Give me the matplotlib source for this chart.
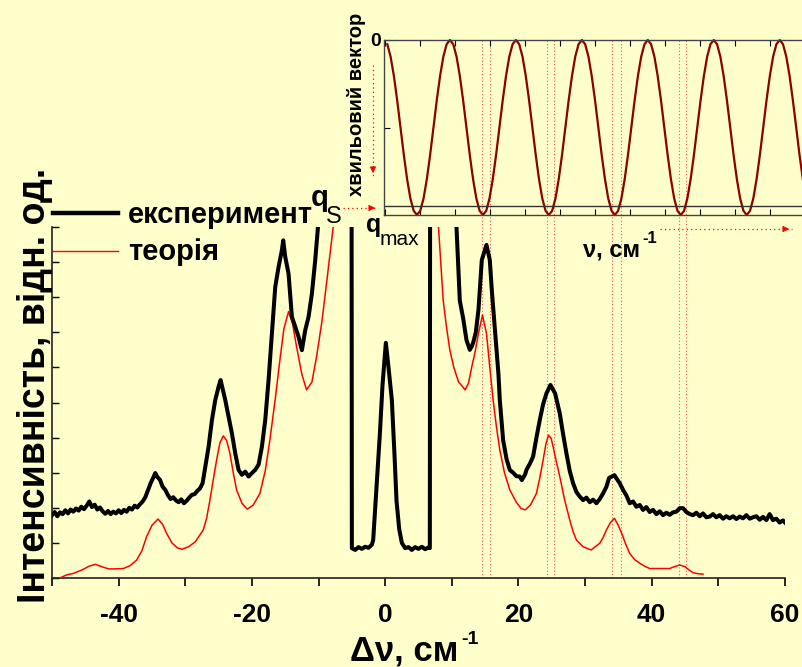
import matplotlib
matplotlib.use("Agg")
import matplotlib.pyplot as plt
import numpy as np
from matplotlib.lines import Line2D
from matplotlib.patches import FancyArrowPatch
from matplotlib.transforms import blended_transform_factory

W, H = 802, 667
BG = "#ffffcc"

plt.rcParams["font.family"] = ["Liberation Sans", "DejaVu Sans"]
plt.rcParams["axes.unicode_minus"] = False

# experiment (black), arb. units 0..100 of the visible range
exp_x = [-50, -49.6, -49.2, -48.8, -48.4, -48.0, -47.6, -47.2, -46.8, -46.4, -46.0,
         -45.6, -45.2, -44.8, -44.4, -44.0, -43.6, -43.2, -42.8, -42.4, -42.0, -41.6,
         -41.2, -40.8, -40.4, -40.0, -39.6, -39.2, -38.8, -38.4, -38.0, -37.6, -37.2,
         -36.8, -36.4, -36.0, -35.6, -35.2, -34.8, -34.5, -34.2, -33.8, -33.4, -33.0,
         -32.6, -32.2, -31.8, -31.4, -31.0, -30.6, -30.2, -29.8, -29.4, -29.0, -28.6,
         -28.2, -27.8, -27.4, -27.0, -26.5, -26.0, -25.5, -25.0, -24.7, -24.3, -24.0,
         -23.5, -23.0, -22.5, -22.0, -21.5, -21.0, -20.5, -20.0, -19.5, -19.0, -18.5,
         -18.0, -17.5, -17.0, -16.5, -16.0, -15.5, -15.3, -15.0, -14.5, -14.0, -13.5,
         -13.0, -12.5, -12.0, -11.5, -11.0, -10.5, -10.0, -9.0, -5.05,
         -5.0, -4.5, -4.0, -3.5, -3.0, -2.5, -2.0, -1.8, -1.3, -0.8, -0.4, 0.1, 0.5,
         1.0, 1.4, 1.7, 2.1, 2.5, 3.0, 3.5, 4.0, 4.5, 5.0, 5.5, 6.0, 6.5, 6.7,
         6.75, 10.6, 10.7, 11.2, 11.7, 12.2, 12.7, 13.0, 13.2, 13.6, 14.0, 14.5, 15.2,
         15.7, 16.0, 16.5, 17.0, 17.2, 17.7, 18.2, 18.7, 19.2, 19.7, 20.2, 20.5, 21.0,
         21.2, 21.7, 22.2, 22.7, 23.2, 23.7, 24.2, 24.8, 25.5, 26.2, 26.7, 27.2, 27.7,
         28.2, 28.7, 29.2, 29.7, 30.2, 30.7, 31.2, 31.7, 32.2, 32.7, 33.2, 33.6, 34.0,
         34.4, 34.7, 35.2, 35.7, 36.2, 36.7, 37.2, 37.7, 38.2, 38.7, 39.2, 39.7, 40.2,
         40.7, 41.2, 41.7, 42.2, 42.7, 43.2, 43.7, 44.2, 44.7, 45.2, 45.7, 46.2, 46.7,
         47.2, 47.7, 48.2, 48.7, 49.2, 49.7, 50.2, 50.7, 51.2, 51.7, 52.2, 52.7, 53.2,
         53.7, 54.2, 54.7, 55.2, 55.7, 56.2, 56.7, 57.2, 57.7, 58.2, 58.7, 59.2, 59.7, 60.0]
exp_y = [17.9, 18.8, 17.6, 18.7, 18.2, 19.3, 18.4, 19.5, 18.9, 19.8, 19.2,
         20.3, 19.6, 20.6, 21.8, 20.2, 20.9, 19.5, 20.1, 19.0, 18.3, 19.1,
         18.2, 18.9, 18.4, 19.3, 18.5, 19.4, 18.9, 20.0, 19.5, 20.6, 20.1,
         21.0, 21.8, 23.0, 25.0, 27.0, 28.6, 29.9, 28.8, 28.0, 26.0, 25.1,
         23.6, 22.5, 23.0, 22.1, 21.6, 22.4, 21.3, 22.0, 22.9, 23.7, 23.9,
         24.8, 25.5, 27.0, 31.7, 37.4, 45.0, 50.7, 54.5, 56.4, 53.1, 50.7,
         46.0, 41.2, 35.5, 30.8, 29.4, 30.3, 28.9, 29.9, 30.8, 32.3, 37.4,
         45.0, 56.4, 69.6, 82.9, 88.6, 93.4, 96.2, 91.5, 86.7, 74.4, 71.6,
         68.7, 64.9, 70.6, 74.4, 81.0, 90.5, 102, 130, 130,
         8.5, 8.0, 8.8, 8.3, 8.9, 8.6, 9.5, 10.8, 26.0, 41.0, 55.0, 67.0, 60.0,
         50.7, 35.0, 22.0, 14.0, 10.0, 8.5, 8.8, 8.0, 8.8, 8.3, 8.9, 8.2, 8.7, 8.5,
         130, 130, 100, 79.0, 74.0, 67.8, 65.0, 66.0, 67.0, 70.0, 76.4, 90.6, 94.9,
         90.6, 82.0, 69.8, 58.0, 50.7, 39.3, 34.0, 30.8, 30.0, 29.0, 28.9, 27.9, 29.5,
         30.8, 32.5, 34.6, 40.0, 45.0, 49.5, 52.6, 55.0, 52.6, 46.9, 41.0, 35.5, 30.5,
         27.0, 24.5, 23.2, 22.2, 22.9, 21.6, 22.3, 21.3, 22.5, 24.1, 26.0, 28.5, 28.9,
         29.3, 28.4, 27.0, 25.1, 23.5, 21.3, 21.8, 20.3, 20.8, 19.4, 20.2, 18.8, 19.4,
         18.2, 19.0, 17.9, 18.6, 18.0, 18.7, 18.9, 19.9, 19.9, 18.8, 18.2, 17.9, 18.6,
         17.6, 18.4, 17.3, 17.5, 18.2, 17.3, 17.9, 16.9, 17.6, 17.0, 17.6, 16.8, 17.5,
         17.0, 17.9, 16.9, 17.3, 17.6, 16.6, 17.4, 16.5, 18.2, 16.5, 16.9, 15.8, 16.4, 15.8]

# theory (red)
th_x = [-48.8, -47.8, -46.8, -45.5, -44.5, -43.5, -42.5, -41.5, -40.5, -39.3, -38.3,
        -37.3, -36.5, -35.8, -35.0, -34.1, -33.4, -32.8, -32.0, -31.2, -30.5, -29.5,
        -28.5, -27.3, -26.8, -26.3, -25.8, -25.3, -24.8, -24.3, -23.8, -23.3, -22.8,
        -22.3, -21.5, -20.7, -19.8, -18.8, -18.0, -17.3, -16.5, -15.8, -15.2, -14.5,
        -13.9, -13.3, -12.5, -11.8, -11.0, -10.3, -9.5, -8.8, -7.8, -7.0,
        7.4, 8.0, 8.7, 9.2, 9.7, 10.3, 11.0, 12.0, 12.5, 13.0, 13.5, 14.0, 14.6,
        15.2, 15.7, 16.2, 16.7, 17.2, 17.9, 18.7, 19.7, 20.4, 21.0, 21.8, 22.7, 23.2,
        23.7, 24.1, 24.5, 24.9, 25.2, 25.7, 26.2, 26.9, 27.7, 28.2, 28.7, 29.7, 30.9,
        32.2, 32.7, 33.2, 33.8, 34.4, 34.9, 35.5, 36.1, 36.7, 37.4, 38.2, 39.0, 39.7,
        41.2, 42.7, 43.5, 44.2, 45.0, 45.6, 46.2, 47.0, 47.7]
th_y = [0.0, 0.9, 1.3, 2.3, 3.3, 3.9, 3.2, 2.6, 2.6, 2.7, 3.5,
        5.1, 7.8, 11.8, 15.0, 16.8, 15.3, 12.7, 10.0, 8.6, 8.2, 8.9,
        10.3, 13.7, 17.0, 22.2, 28.0, 33.6, 38.5, 40.5, 39.2, 35.5, 30.0,
        25.1, 21.3, 19.6, 20.8, 24.1, 30.5, 39.3, 51.0, 62.1, 71.0, 75.9,
        72.5, 65.9, 58.0, 53.6, 55.8, 63.0, 73.0, 84.0, 100.0, 120,
        120, 100, 79.2, 71.5, 65.0, 60.0, 55.9, 53.6, 55.5, 60.2, 64.5, 69.7, 74.9,
        69.7, 60.0, 50.7, 43.0, 36.5, 30.0, 25.1, 21.5, 19.8, 19.4, 20.8, 24.1, 28.5,
        33.6, 38.0, 40.7, 39.8, 37.4, 33.0, 28.9, 22.5, 16.5, 13.2, 10.8, 8.9, 8.0,
        9.9, 11.5, 13.7, 15.8, 17.0, 15.3, 12.7, 9.6, 7.0, 5.3, 4.2, 3.3, 2.7,
        2.7, 2.7, 3.3, 3.7, 3.2, 2.3, 1.5, 1.2, 1.1]

# inset: wave vector q/q_max (0 at top) sampled every 0.495 cm^-1
inset_q = [0.024, 0.095, 0.206, 0.345, 0.5, 0.655, 0.794, 0.905, 0.976, 1.0,
           0.976, 0.905, 0.794, 0.655, 0.5, 0.345, 0.206, 0.095, 0.024, 0.0,
           0.024, 0.095, 0.206, 0.345, 0.5, 0.655, 0.794, 0.905, 0.976, 1.0,
           0.976, 0.905, 0.794, 0.655, 0.5, 0.345, 0.206, 0.095, 0.024, 0.0,
           0.024, 0.095, 0.206, 0.345, 0.5, 0.655, 0.794, 0.905, 0.976, 1.0,
           0.976, 0.905, 0.794, 0.655, 0.5, 0.345, 0.206, 0.095, 0.024, 0.0,
           0.024, 0.095, 0.206, 0.345, 0.5, 0.655, 0.794, 0.905, 0.976, 1.0,
           0.976, 0.905, 0.794, 0.655, 0.5, 0.345, 0.206, 0.095, 0.024, 0.0,
           0.024, 0.095, 0.206, 0.345, 0.5, 0.655, 0.794, 0.905, 0.976, 1.0,
           0.976, 0.905, 0.794, 0.655, 0.5, 0.345, 0.206, 0.095, 0.024, 0.0,
           0.024, 0.095, 0.206, 0.345, 0.5, 0.655, 0.794, 0.905, 0.976, 1.0,
           0.976, 0.905, 0.794, 0.655, 0.5, 0.345, 0.206, 0.095, 0.024, 0.0,
           0.024, 0.095, 0.206, 0.345, 0.5, 0.655, 0.794, 0.905, 0.976, 1.0,
           0.976, 0.905, 0.794, 0.655, 0.5]
inset_nu = -0.2 + 0.495 * np.arange(1, len(inset_q) + 1)
q_s = 0.947

mode_lines = [14.5, 15.7, 24.3, 25.3, 34.0, 35.4, 44.1, 45.1]
x_ticks = [-40, -20, 0, 20, 40, 60]
x_labels = ["-40", "-20", "0", "20", "40", "60"]


def fx(px):
    return px / W


def fy(py):
    return 1 - py / H


fig = plt.figure(figsize=(W / 100, H / 100), dpi=100, facecolor=BG)

ax = fig.add_axes([fx(52), fy(578), fx(785) - fx(52), fy(227) - fy(578)])
ax.set_facecolor(BG)
ax.set_xlim(-50, 60)
ax.set_ylim(0, 100)
for s in ("top", "right"):
    ax.spines[s].set_visible(False)
for s in ("left", "bottom"):
    ax.spines[s].set_linewidth(1.2)
    ax.spines[s].set_color("#222222")

ax.set_xticks(x_ticks)
ax.set_xticklabels(x_labels, fontsize=19, fontweight="bold")
ax.set_xticks(np.arange(-50, 61, 10), minor=True)
ax.tick_params(axis="x", which="both", direction="out", length=6, width=1.2, pad=12)
ax.set_yticks(np.arange(0, 101, 10))
ax.set_yticklabels([])
ax.tick_params(axis="y", direction="in", length=5, width=1)

ax.plot(th_x, th_y, color="red", lw=1.1, zorder=3)
ax.plot(exp_x, exp_y, color="black", lw=2.9, solid_joinstyle="round", zorder=4)

# dotted lines from the spectrum peaks up through the inset
tr = blended_transform_factory(ax.transData, ax.transAxes)
for x in mode_lines:
    ax.plot([x, x], [0, (578 - 40) / 351], transform=tr, clip_on=False,
            color="#ff5050", lw=0.8, ls=(0, (1, 2)), zorder=1)

# inset
ins = fig.add_axes([fx(384), fy(215), fx(830) - fx(384), fy(40) - fy(215)])
ins.set_facecolor("none")
ins.set_xlim(-0.2, 66.75)
ins.set_ylim(1.0, 0.0)
ins.plot(inset_nu, inset_q, color="#8b0000", lw=1.6, clip_on=False)
ins.axhline(q_s, color="#333333", lw=1)
ins.spines["right"].set_visible(False)
for s in ("left", "top", "bottom"):
    ins.spines[s].set_color("#444444")
    ins.spines[s].set_linewidth(1)
ins.set_xticks(np.arange(0, 67, 5.25))
ins.set_xticklabels([])
ins.tick_params(axis="x", direction="in", length=4, top=True)
ins.set_yticks([0, 0.5])
ins.set_yticklabels(["0", ""], fontsize=14, fontweight="bold")
ins.tick_params(axis="y", direction="in", length=4, pad=2)

fig.text(fx(357), fy(104), "хвильовий вектор", rotation=90, ha="center", va="center",
         fontsize=14.5, fontweight="bold")

# axis labels
fig.text(fx(35), fy(385), "Інтенсивність, відн. од.", rotation=90, ha="center",
         va="center", fontsize=27, fontweight="bold")
fig.text(fx(458), fy(660), "Δν, см", ha="right", va="baseline", fontsize=25,
         fontweight="bold")
fig.text(fx(461), fy(644), "-1", ha="left", va="baseline", fontsize=14,
         fontweight="bold")

# legend
fig.add_artist(Line2D([fx(53), fx(118)], [fy(213), fy(213)], color="black", lw=3.2))
fig.add_artist(Line2D([fx(53), fx(118)], [fy(251), fy(251)], color="red", lw=1))
fig.text(fx(128), fy(215), "експеримент", ha="left", va="center", fontsize=21,
         fontweight="bold")
fig.text(fx(128), fy(252), "теорія", ha="left", va="center", fontsize=21,
         fontweight="bold")

# q labels
fig.text(fx(311), fy(206), "q", ha="left", va="baseline", fontsize=21, fontweight="bold")
fig.text(fx(326), fy(223), "S", ha="left", va="baseline", fontsize=17)
fig.text(fx(366), fy(232), "q", ha="left", va="baseline", fontsize=18, fontweight="bold")
fig.text(fx(380), fy(245), "max", ha="left", va="baseline", fontsize=15)

# nu label near inset
fig.text(fx(640), fy(257), "ν, см", ha="right", va="baseline", fontsize=17,
         fontweight="bold")
fig.text(fx(642), fy(243), "-1", ha="left", va="baseline", fontsize=12,
         fontweight="bold")


def dotted_arrow(p0, p1):
    (x0, y0), (x1, y1) = p0, p1
    fig.add_artist(Line2D([fx(x0), fx(x1)], [fy(y0), fy(y1)], color="red",
                          lw=0.9, ls=(0, (1, 2.5))))
    hx = x1 - 10 * np.sign(x1 - x0) if x1 != x0 else x1
    hy = y1 - 10 * np.sign(y1 - y0) if y1 != y0 else y1
    fig.add_artist(FancyArrowPatch((fx(hx), fy(hy)), (fx(x1), fy(y1)),
                                   transform=fig.transFigure, arrowstyle="-|>",
                                   mutation_scale=9, color="red", lw=0.8))


dotted_arrow((343, 208), (378, 208))
dotted_arrow((373, 65), (373, 176))
dotted_arrow((660, 229), (792, 229))

fig.savefig("out.png", dpi=100, facecolor=BG)
plt.close(fig)
